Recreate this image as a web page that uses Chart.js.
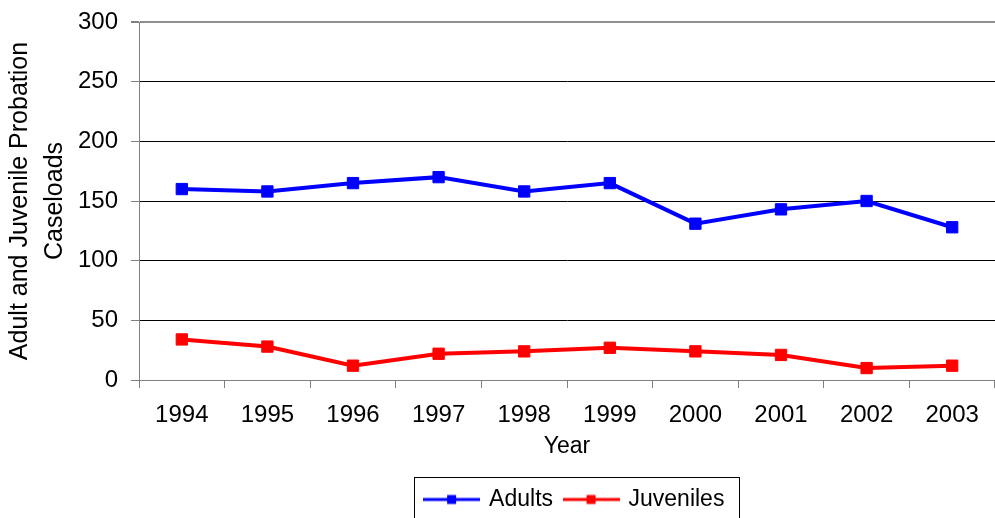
<!DOCTYPE html>
<html>
<head>
<meta charset="utf-8">
<title>Probation Caseloads</title>
<script src="https://cdn.jsdelivr.net/npm/chart.js@4/dist/chart.umd.min.js"></script>
<style>
  html, body { margin: 0; padding: 0; background: #fff; }
  #wrap { width: 995px; height: 518px; position: relative; }
</style>
</head>
<body>
<div id="wrap"><canvas id="caseloads"></canvas></div>
<script>
const years = ['1994','1995','1996','1997','1998','1999','2000','2001','2002','2003'];
const adults = [160, 158, 165, 170, 158, 165, 131, 143, 150, 128];
const juveniles = [34, 28, 12, 22, 24, 27, 24, 21, 10, 12];
const yTicks = [0, 50, 100, 150, 200, 250, 300];

const FONT = '"Liberation Sans", Arial, sans-serif';

// little line-with-square swatch for the legend
function swatch(color){
  const c = document.createElement('canvas');
  c.width = 57; c.height = 14;
  const g = c.getContext('2d');
  g.strokeStyle = color; g.lineWidth = 3;
  g.beginPath(); g.moveTo(0, 7); g.lineTo(57, 7); g.stroke();
  g.fillStyle = color;
  g.fillRect(24, 2.5, 9, 9);
  return c;
}
const marks = [swatch('#0000ff'), swatch('#ff0000')];

// legend sits under the plot area (not the whole canvas) and gets a frame
const legendFrame = {
  id: 'legendFrame',
  afterLayout(chart){
    const lg = chart.legend, ca = chart.chartArea;
    const shift = (ca.left + ca.right) / 2 + 8 - (lg.left + lg.right) / 2;
    lg.left += shift; lg.right += shift;
  },
  afterDraw(chart){
    const lg = chart.legend, pad = lg.options.labels.padding, lw = lg.lineWidths[0];
    const x0 = (lg.left + pad + lg.right - lw) / 2;
    const x1 = x0 + lw - pad;
    const ctx = chart.ctx;
    ctx.save();
    ctx.strokeStyle = '#000'; ctx.lineWidth = 1;
    ctx.strokeRect(Math.round(x0 - 12) + 0.5, Math.round(lg.top + 1) + 0.5, Math.round(x1 - x0 + 26), 60);
    ctx.restore();
  }
};

new Chart(document.getElementById('caseloads').getContext('2d'), {
  type: 'line',
  data: {
    labels: years,
    datasets: [
      { label: 'Adults', data: adults, borderColor: '#0000ff', backgroundColor: '#0000ff',
        borderWidth: 4, pointStyle: 'rect', pointRadius: 8, pointBorderWidth: 1, tension: 0 },
      { label: 'Juveniles', data: juveniles, borderColor: '#ff0000', backgroundColor: '#ff0000',
        borderWidth: 4, pointStyle: 'rect', pointRadius: 8, pointBorderWidth: 1, tension: 0 }
    ]
  },
  options: {
    responsive: true,
    maintainAspectRatio: false,
    animation: false,
    layout: { autoPadding: false, padding: { top: 22, right: 0, bottom: -3, left: 0 } },
    plugins: {
      tooltip: { enabled: false },
      legend: {
        position: 'bottom',
        labels: {
          color: '#000',
          font: { family: FONT, size: 23 },
          usePointStyle: true,
          pointStyleWidth: 52,
          padding: 12,
          generateLabels(chart){
            const items = Chart.defaults.plugins.legend.labels.generateLabels(chart);
            items.forEach((it, i) => { it.pointStyle = marks[i]; });
            return items;
          }
        }
      }
    },
    scales: {
      x: {
        offset: true,
        afterFit(s){ s.height = 96; s.paddingLeft = 0; s.paddingRight = 0; },
        border: { color: '#808080', width: 1 },
        grid: { offset: true, drawOnChartArea: false, tickLength: 8, color: '#808080' },
        ticks: { color: '#000', font: { family: FONT, size: 24 }, padding: 13, maxRotation: 0 },
        title: { display: true, text: 'Year', color: '#000', font: { family: FONT, size: 23 },
                 padding: { top: 0, bottom: 16 } }
      },
      y: {
        min: 0,
        max: 300,
        afterFit(s){ s.width = 139; s.paddingTop = 0; s.paddingBottom = 0; },
        afterBuildTicks(s){ s.ticks = yTicks.map(v => ({ value: v })); },
        border: { color: '#808080', width: 1 },
        grid: {
          color: ctx => ctx.tick && ctx.tick.value === 300 ? '#909090' : '#000',
          lineWidth: ctx => ctx.tick && ctx.tick.value === 300 ? 2 : 1,
          tickColor: '#808080',
          tickLength: 8
        },
        ticks: { color: '#000', font: { family: FONT, size: 24 }, padding: 13 },
        title: {
          display: true,
          text: ['Adult and Juvenile Probation', 'Caseloads'],
          color: '#000',
          font: { family: FONT, size: 25, lineHeight: 1.4 },
          padding: { top: 3, bottom: 0 }
        }
      }
    }
  },
  plugins: [legendFrame]
});
</script>
</body>
</html>
